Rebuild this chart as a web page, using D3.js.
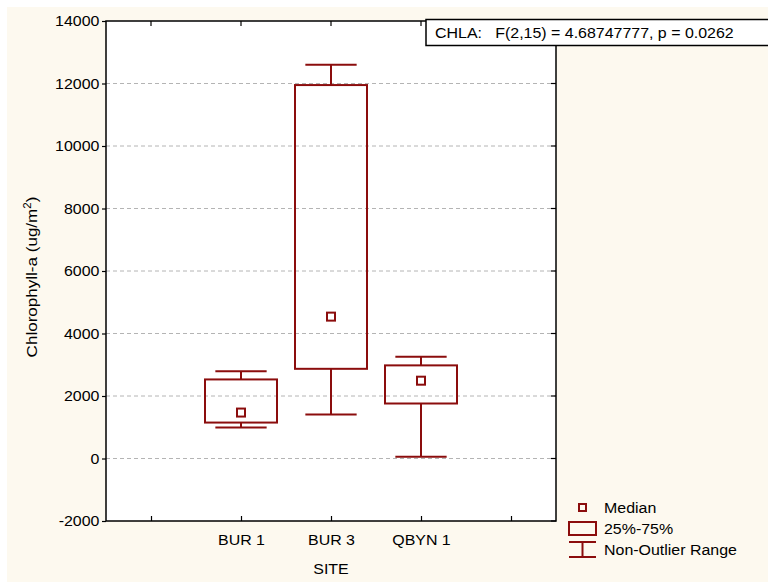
<!DOCTYPE html>
<html>
<head>
<meta charset="utf-8">
<script src="https://cdn.jsdelivr.net/npm/d3@7"></script>
<style>
  html, body { margin: 0; padding: 0; background: #ffffff; }
  svg { display: block; font-family: "Liberation Sans", Arial, sans-serif; }
</style>
</head>
<body>
<svg id="chart" width="768" height="583"></svg>
<script>
// Chlorophyll-a by site: median, quartiles and non-outlier range
const sites = ["BUR 1", "BUR 3", "QBYN 1"];
const medians = [1470, 4540, 2490];
const q1 = [1150, 2870, 1760];
const q3 = [2530, 11950, 2980];
const whiskerLow = [990, 1410, 60];
const whiskerHigh = [2790, 12600, 3260];
const yTicks = [-2000, 0, 2000, 4000, 6000, 8000, 10000, 12000, 14000];
const gridValues = [0, 2000, 4000, 6000, 8000, 10000, 12000];
const statsText = "CHLA:   F(2,15) = 4.68747777, p = 0.0262";

const boxColor = "#8b0d0d";
const fontSize = 14.5;
const stretch = 1.1; // slightly wide lettering
const svg = d3.select("#chart");

// draws a horizontally widened label anchored at (x, y)
function label(parent, x, y, text, anchor = "start", size = fontSize) {
  return parent.append("text")
    .attr("transform", `translate(${x},${y}) scale(${stretch},1)`)
    .attr("text-anchor", anchor).attr("font-size", size)
    .style("white-space", "pre").text(text);
}

// page background
svg.append("rect").attr("x", 7).attr("y", 7).attr("width", 761).attr("height", 575)
  .attr("fill", "#fdf9ef");

const plotLeft = 106, plotRight = 556, plotTop = 21, plotBottom = 521;

// slot list with empty end slots on either side of the sites
const slots = ["_a", ...sites, "_b"];
const x = d3.scalePoint().domain(slots).range([plotLeft, plotRight]).padding(0.5);
const y = d3.scaleLinear().domain([-2000, 14000]).range([plotBottom, plotTop]);
const step = x.step();

// plot area
svg.append("rect").attr("x", plotLeft).attr("y", plotTop)
  .attr("width", plotRight - plotLeft).attr("height", plotBottom - plotTop)
  .attr("fill", "#ffffff");

// gridlines
svg.append("g").selectAll("line").data(gridValues).join("line")
  .attr("x1", plotLeft).attr("x2", plotRight)
  .attr("y1", d => y(d)).attr("y2", d => y(d))
  .attr("stroke", "#b4b4b4").attr("stroke-width", 1).attr("stroke-dasharray", "4,3");

// left axis, ticks outward
const yAxis = d3.axisLeft(y).tickValues(yTicks).tickSize(4).tickPadding(2).tickFormat(d => String(d));
const gy = svg.append("g").attr("transform", `translate(${plotLeft},0)`).call(yAxis);
gy.select(".domain").remove();
gy.selectAll(".tick line").attr("stroke", "#000").attr("stroke-width", 1.2);
gy.selectAll(".tick text").attr("font-size", fontSize).attr("fill", "#000")
  .attr("font-family", "Liberation Sans, Arial, sans-serif")
  .attr("transform", `scale(${stretch},1)`);

// right axis ticks, inward
svg.append("g").selectAll("line").data(yTicks).join("line")
  .attr("x1", plotRight - 5).attr("x2", plotRight)
  .attr("y1", d => y(d)).attr("y2", d => y(d))
  .attr("stroke", "#000").attr("stroke-width", 1.2);

// bottom axis, ticks inward
const xAxis = d3.axisBottom(x).tickSize(-5).tickPadding(14).tickFormat(d => d.startsWith("_") ? "" : d);
const gx = svg.append("g").attr("transform", `translate(0,${plotBottom})`).call(xAxis);
gx.select(".domain").remove();
gx.selectAll(".tick line").attr("stroke", "#000").attr("stroke-width", 1.2);
gx.selectAll(".tick text").attr("font-size", fontSize).attr("fill", "#000")
  .attr("font-family", "Liberation Sans, Arial, sans-serif")
  .attr("transform", `scale(${stretch},1)`);

// top axis ticks, inward
svg.append("g").selectAll("line").data(slots).join("line")
  .attr("x1", d => x(d)).attr("x2", d => x(d))
  .attr("y1", plotTop).attr("y2", plotTop + 5)
  .attr("stroke", "#000").attr("stroke-width", 1.2);

// frame
svg.append("rect").attr("x", plotLeft).attr("y", plotTop)
  .attr("width", plotRight - plotLeft).attr("height", plotBottom - plotTop)
  .attr("fill", "none").attr("stroke", "#000").attr("stroke-width", 1.5);

// boxes
const boxW = step * 0.8, capW = step * 0.57, medS = 8;
const g = svg.append("g").attr("stroke", boxColor).attr("stroke-width", 2).attr("fill", "none");
sites.forEach((s, i) => {
  const cx = x(s);
  g.append("line").attr("x1", cx).attr("x2", cx).attr("y1", y(whiskerHigh[i])).attr("y2", y(q3[i]));
  g.append("line").attr("x1", cx).attr("x2", cx).attr("y1", y(q1[i])).attr("y2", y(whiskerLow[i]));
  g.append("line").attr("x1", cx - capW / 2).attr("x2", cx + capW / 2).attr("y1", y(whiskerHigh[i])).attr("y2", y(whiskerHigh[i]));
  g.append("line").attr("x1", cx - capW / 2).attr("x2", cx + capW / 2).attr("y1", y(whiskerLow[i])).attr("y2", y(whiskerLow[i]));
  g.append("rect").attr("x", cx - boxW / 2).attr("y", y(q3[i])).attr("width", boxW).attr("height", y(q1[i]) - y(q3[i]));
  g.append("rect").attr("x", cx - medS / 2).attr("y", y(medians[i]) - medS / 2).attr("width", medS).attr("height", medS);
});

// axis titles
label(svg, (plotLeft + plotRight) / 2, 574, "SITE", "middle");
const yt = svg.append("text")
  .attr("transform", `translate(37,277) rotate(-90) scale(${stretch},1)`)
  .attr("text-anchor", "middle").attr("font-size", 15.5);
yt.append("tspan").text("Chlorophyll-a (ug/m");
yt.append("tspan").attr("font-size", 10.5).attr("dy", -6).text("2");
yt.append("tspan").attr("dy", 6).text(")");

// statistics box
svg.append("rect").attr("x", 426).attr("y", 19.5).attr("width", 360).attr("height", 26)
  .attr("fill", "#ffffff").attr("stroke", "#000").attr("stroke-width", 1.5);
label(svg, 435, 38, statsText);

// legend
const lg = svg.append("g");
lg.append("rect").attr("x", 579).attr("y", 504).attr("width", 7).attr("height", 7)
  .attr("fill", "none").attr("stroke", boxColor).attr("stroke-width", 2);
lg.append("rect").attr("x", 569).attr("y", 522).attr("width", 27).attr("height", 13)
  .attr("fill", "none").attr("stroke", boxColor).attr("stroke-width", 2);
lg.append("line").attr("x1", 569).attr("x2", 596).attr("y1", 542).attr("y2", 542).attr("stroke", boxColor).attr("stroke-width", 2);
lg.append("line").attr("x1", 569).attr("x2", 596).attr("y1", 557).attr("y2", 557).attr("stroke", boxColor).attr("stroke-width", 2);
lg.append("line").attr("x1", 582.5).attr("x2", 582.5).attr("y1", 542).attr("y2", 557).attr("stroke", boxColor).attr("stroke-width", 2);
const legendLabels = [["Median", 513], ["25%-75%", 534], ["Non-Outlier Range", 555]];
legendLabels.forEach(([t, ly]) => label(lg, 604, ly, t));
</script>
</body>
</html>
